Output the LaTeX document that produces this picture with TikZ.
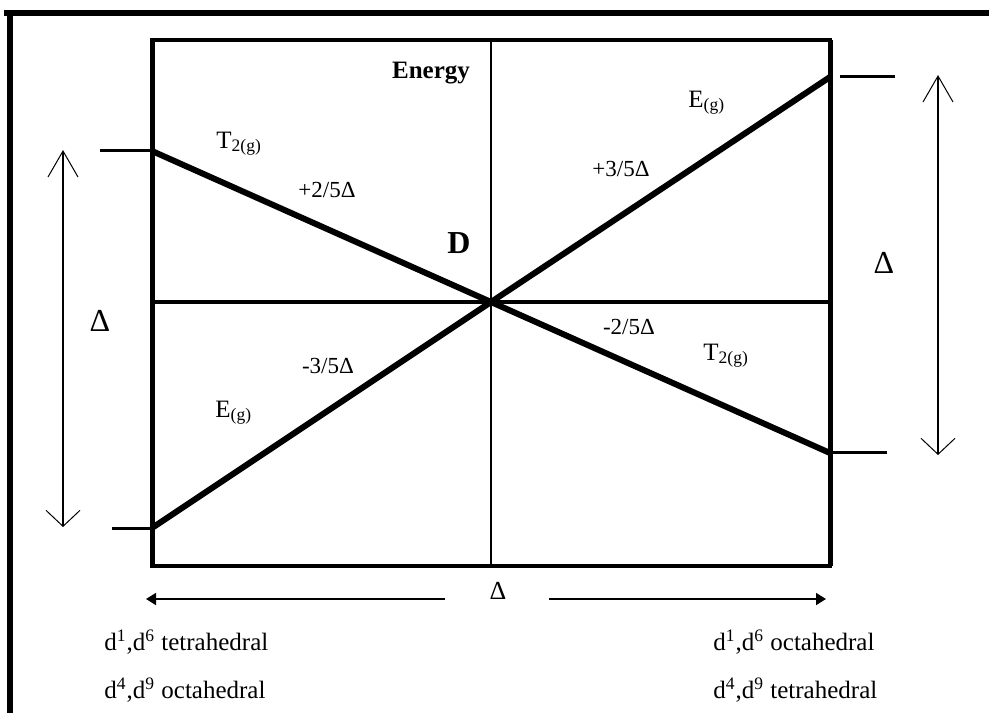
\documentclass[tikz,border=0pt]{standalone}
\usepackage{fontspec}
\setmainfont{Liberation Serif}
\usetikzlibrary{arrows.meta}

\begin{document}
\begin{tikzpicture}[
    x=0.5pt,
    y=-0.5pt,
    frame/.style={
        line width=3pt
    },
    rim/.style={
        line width=2.5pt
    },
    level/.style={
        line width=3pt
    },
    tick/.style={
        line width=1.5pt
    },
    span/.style={
        {Straight Barb[length=13pt,width=15pt,line width=0.5pt]}-{Straight Barb[length=8pt,width=17pt,line width=0.5pt]},
        line width=1pt
    },
    axis/.style={
        -{Triangle[length=5pt,width=6pt]},
        line width=0.8pt
    },
    lbl/.style={
        font=\fontsize{11.5}{13}\selectfont,
        inner sep=0pt
    },
    term/.style={
        font=\fontsize{12.5}{14}\selectfont,
        inner sep=0pt,
        anchor=base west
    },
    big/.style={
        font=\fontsize{16}{18}\selectfont,
        inner sep=0pt
    }
]

\useasboundingbox (0,0) rectangle (989,713);

% outer frame (top and left)
\draw[frame] (4,12.5) -- (989,12.5);
\draw[frame] (10,12.5) -- (10,713);

% box
\coordinate (bl) at (152,566);
\coordinate (tr) at (830,40);
\coordinate (c) at (491,302);
\draw[line width=1.7pt] (bl) rectangle (tr);
\draw[rim] (bl) -- (bl |- tr);
\draw[rim] (tr) -- (tr |- bl);
\draw[line width=1.3pt] (c |- tr) -- (c |- bl);
\draw[line width=2.4pt] (bl |- c) -- (tr |- c);

% split levels
\coordinate (lt) at (152,151);
\coordinate (lb) at (152,528);
\coordinate (rt) at (830,77);
\coordinate (rb) at (830,453);

\draw[level] (lt) -- (c);
\draw[level] (lb) -- (c);
\draw[level] (c) -- (rt);
\draw[level] (c) -- (rb);

\coordinate (ltt) at (100,150);
\coordinate (lbt) at (112,528);
\coordinate (rtt) at (895,76);
\coordinate (rbt) at (887,452);
\draw[tick] (ltt) -- (lt |- ltt);
\draw[tick] (lbt) -- (lb |- lbt);
\draw[tick] (840,76) -- (rtt);
\draw[tick] (rb |- rbt) -- (rbt);

% splitting arrows
\coordinate (la1) at (63,150);
\coordinate (la2) at (63,527);
\coordinate (ra1) at (938,75);
\coordinate (ra2) at (938,455);
\draw[span] (la1) -- (la2);
\draw[span] (ra1) -- (ra2);

\node[big] (dl) at (100,321) {Δ};
\node[big] (dr) at (884,263) {Δ};

% labels
\node[term, anchor=base, font=\fontsize{12.5}{14}\selectfont\bfseries] (energy) at (431,78) {Energy};
\node[big, font=\fontsize{16}{18}\selectfont\bfseries] (d) at (459,243) {D};

\node[term] (t2l) at (216,148) {T\textsubscript{2(g)}};
\node[lbl] (p25) at (327,190) {+2/5Δ};
\node[term] (egr) at (688,107) {E\textsubscript{(g)}};
\node[lbl] (p35) at (621,169) {+3/5Δ};
\node[lbl] (m35) at (328,366) {-3/5Δ};
\node[term] (egl) at (215,417) {E\textsubscript{(g)}};
\node[lbl] (m25) at (629,327) {-2/5Δ};
\node[term] (t2r) at (703,360) {T\textsubscript{2(g)}};

% bottom axis
\node[big, font=\fontsize{13}{15}\selectfont] (dax) at (498,591) {Δ};
\coordinate (axl) at (146,599);
\coordinate (axr) at (826,599);
\draw[axis] (445,599) -- (axl);
\draw[axis] (549,599) -- (axr);

\node[term] (tl1) at (104,650) {d\textsuperscript{1},d\textsuperscript{6} tetrahedral};
\node[term] (tl2) at (104,698) {d\textsuperscript{4},d\textsuperscript{9} octahedral};
\node[term] (tr1) at (713,650) {d\textsuperscript{1},d\textsuperscript{6} octahedral};
\node[term] (tr2) at (713,698) {d\textsuperscript{4},d\textsuperscript{9} tetrahedral};

\end{tikzpicture}
\end{document}
